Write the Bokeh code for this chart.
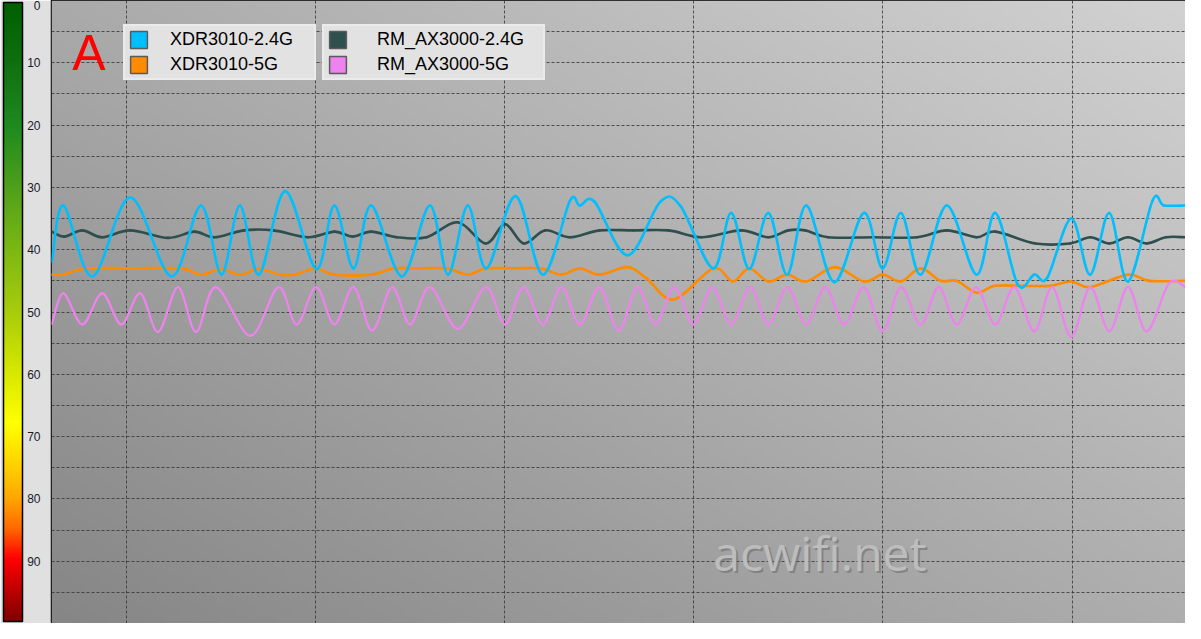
import numpy as np
from bokeh.plotting import figure
from bokeh.models import (Range1d, FixedTicker, ColorBar, LinearColorMapper,
                          Legend, LegendItem, Label, ColumnDataSource)
from bokeh.embed import file_html
from bokeh.resources import INLINE

# ---------------- data (time in s, signal value) ----------------
xdr24_t = [6.05, 6.66, 8.19, 10.19, 12.37, 13.93, 15.02, 15.99, 17.0, 18.38, 20.03, 20.99, 22.0, 22.94,
           24.56, 26.04, 27.0, 28.04, 29.03, 30.57, 32.01, 33.44, 33.97, 34.75, 36.49, 38.23, 39.3,
           41.02, 41.97, 42.93, 43.94, 44.94, 45.95, 47.42, 48.99, 49.98, 50.95, 51.99, 53.38, 54.95, 55.94,
           57.13, 58.0, 58.69, 59.96, 60.96, 61.97, 62.96, 64.26, 64.86, 66.0]
xdr24_v = [41.9, 32.9, 44.3, 31.6, 44.3, 32.9, 44.0, 32.9, 44.0, 30.6, 43.1, 32.9, 43.0, 32.9,
           44.3, 32.9, 44.0, 32.9, 43.0, 31.4, 44.0, 32.2, 32.9, 32.3, 40.9, 32.3, 33.0,
           43.0, 34.1, 43.1, 34.1, 44.0, 32.9, 45.2, 34.1, 43.0, 34.1, 44.0, 32.9, 44.0, 34.1,
           45.6, 44.0, 44.5, 35.0, 44.0, 34.1, 45.1, 32.1, 32.9, 32.9]

xdr5_t = [6.05, 6.66, 7.84, 10.3, 12.89, 13.93, 14.98, 15.99, 17.0, 18.11, 18.88, 20.03, 20.99, 22.94,
          24.11, 25.5, 26.93, 28.04, 29.0, 30.5, 31.89, 33.0, 33.97, 35.01, 36.49, 37.5, 38.93, 41.02,
          42.06, 42.93, 43.94, 44.94, 45.95, 47.46, 48.99, 49.98, 50.95, 51.99, 53.05, 53.89, 54.95,
          55.91, 57.4, 58.85, 59.96, 60.96, 62.96, 64.07, 66.0]
xdr5_v = [44.0, 44.0, 43.0, 43.0, 43.0, 44.0, 43.1, 44.0, 43.1, 44.0, 44.0, 43.0, 44.0, 44.0,
          43.0, 43.0, 43.0, 44.0, 43.0, 43.0, 43.0, 44.0, 43.0, 44.0, 42.8, 44.6, 48.0, 43.0,
          45.1, 43.0, 45.1, 44.0, 45.1, 42.8, 45.1, 44.0, 45.1, 43.0, 45.0, 45.0, 46.9,
          45.8, 45.8, 45.8, 45.1, 46.0, 44.0, 45.0, 45.0]

rm24_t = [6.05, 6.71, 7.66, 8.71, 10.19, 12.19, 13.59, 14.63, 16.2, 17.77, 19.6, 20.99, 21.95, 22.94,
          24.3, 25.87, 27.52, 29.0, 30.01, 31.0, 32.14, 33.44, 35.01, 36.8, 38.67, 40.41, 42.5, 43.94,
          44.99, 45.89, 47.1, 49.5, 51.8, 53.38, 54.95, 55.94, 58.07, 59.9, 60.96, 61.97, 62.96, 63.95,
          64.96, 66.0]
rm24_v = [37.1, 37.9, 36.9, 38.0, 36.9, 38.1, 37.1, 38.0, 36.9, 36.9, 38.0, 37.1, 37.9, 37.1,
          38.0, 38.0, 35.6, 39.0, 35.9, 39.0, 36.9, 38.0, 36.9, 36.9, 36.9, 38.0, 36.9, 38.0,
          36.9, 36.9, 38.0, 38.0, 38.0, 36.9, 38.0, 37.1, 39.0, 39.0, 38.0, 39.0, 38.0, 39.0,
          38.0, 38.0]

rm5_t = [6.05, 6.66, 7.66, 8.71, 9.72, 10.72, 11.67, 12.72, 13.67, 14.72, 16.55, 18.03, 18.99, 20.03,
         20.99, 22.0, 22.99, 24.04, 24.99, 26.04, 27.52, 29.0, 30.01, 31.0, 32.01, 33.0, 33.97, 35.01,
         36.02, 37.01, 37.97, 38.98, 39.97, 40.98, 41.97, 42.98, 43.94, 44.94, 45.95, 46.94, 47.95,
         48.99, 49.98, 50.95, 51.99, 52.95, 53.9, 54.92, 55.94, 56.95, 58.0, 58.95, 59.96, 60.96,
         61.97, 62.96, 63.95, 65.13, 66.0]
rm5_v = [51.9, 47.0, 52.0, 47.0, 52.0, 47.0, 53.2, 46.0, 53.2, 46.0, 53.8, 46.0, 52.0, 46.0,
         52.0, 46.0, 53.0, 46.0, 52.0, 46.0, 52.7, 46.0, 52.0, 46.0, 52.0, 46.0, 52.0, 46.0,
         53.0, 46.0, 52.0, 46.0, 52.0, 46.0, 52.0, 46.0, 52.0, 46.0, 52.0, 46.0, 52.0,
         46.0, 53.1, 46.0, 52.0, 46.0, 52.0, 46.0, 52.0, 46.0, 53.1, 46.0, 54.0, 46.0,
         53.1, 46.0, 53.1, 45.4, 46.0]

series_names = ["XDR3010-2.4G", "XDR3010-5G", "RM_AX3000-2.4G", "RM_AX3000-5G"]
series_colors = ["#00bfff", "#ff8c00", "#2f4f4f", "#ee82ee"]
y_ticks = [0, 10, 20, 30, 40, 50, 60, 70, 80, 90]
y_last = 100
x_grid = [10, 20, 30, 40, 50, 60]

# ---------------- figure ----------------
W, H = 1185, 623
p = figure(width=W, height=H, output_backend="svg", toolbar_location=None,
           x_range=Range1d(6.03, 66.0), y_range=Range1d(100, 0),
           min_border_left=51, min_border_right=0, min_border_top=0, min_border_bottom=0)
p.border_fill_color = "#e0e0e0"
p.background_fill_color = "#a8a8a8"
p.outline_line_color = "black"
p.outline_line_width = 1.5
p.xaxis.visible = False

# background shading (style only)
nx, ny = 300, 160
fx = np.linspace(0, 1, nx)[None, :]
fy = np.linspace(0, 1, ny)[:, None]
g = np.clip(170 + 40 * fx - 36 * fy, 0, 255).astype(np.uint8)
img = np.empty((ny, nx), dtype=np.uint32)
view = img.view(dtype=np.uint8).reshape((ny, nx, 4))
view[..., 0] = g
view[..., 1] = g
view[..., 2] = g
view[..., 3] = 255
p.image_rgba(image=[img], x=6.03, y=0, dw=59.97, dh=100, level="image")

# grid
p.xgrid.ticker = FixedTicker(ticks=x_grid)
p.ygrid.ticker = FixedTicker(ticks=list(range(5, 100, 5)))
for gr in (p.xgrid, p.ygrid):
    gr.grid_line_color = "#3a3a3a"
    gr.grid_line_dash = "3 2"
    gr.grid_line_width = 1
    gr.grid_line_alpha = 0.85

# y axis
ya = p.yaxis[0]
ya.ticker = FixedTicker(ticks=y_ticks)
ya.major_tick_line_color = None
ya.minor_tick_line_color = None
ya.axis_line_color = None
ya.major_tick_out = 0
ya.major_tick_in = 0
ya.major_label_standoff = 11
ya.major_label_text_font = "Liberation Sans"
ya.major_label_text_font_size = "12px"
ya.major_label_text_color = "#1a1a2a"

# color strip
stops = [(0, (0x00, 0x60, 0x00)), (10, (0x10, 0x70, 0x10)), (20, (0x1e, 0x8a, 0x1e)),
         (30, (0x50, 0xa0, 0x1a)), (40, (0x7c, 0xb8, 0x14)), (50, (0xa8, 0xcc, 0x0a)),
         (60, (0xd8, 0xe8, 0x00)), (68, (0xff, 0xff, 0x00)), (75, (0xff, 0xd0, 0x00)),
         (80, (0xff, 0xa8, 0x00)), (85, (0xff, 0x6a, 0x00)), (90, (0xff, 0x00, 0x00)),
         (95, (0xc0, 0x00, 0x00)), (100, (0x80, 0x00, 0x00))]
pal = []
for k in range(256):
    vv = 100 - k * 100 / 255.0
    for (a, ca), (b, cb) in zip(stops[:-1], stops[1:]):
        if a <= vv <= b:
            f = (vv - a) / (b - a)
            c = [int(round(ca[j] + (cb[j] - ca[j]) * f)) for j in range(3)]
            pal.append("#%02x%02x%02x" % tuple(c))
            break
cb_ = ColorBar(color_mapper=LinearColorMapper(palette=pal, low=0, high=100),
               width=19, padding=2, margin=0, ticker=FixedTicker(ticks=[]),
               major_tick_line_color=None, minor_tick_line_color=None,
               major_tick_in=0, major_tick_out=0, label_standoff=0,
               major_label_text_font_size="0px",
               bar_line_color="black", bar_line_width=1.5,
               background_fill_color="#e0e0e0", border_line_color=None)
p.add_layout(cb_, "left")

# last tick label (kept separate so the axis strip stays narrow; lifted to stay on the canvas)
p.add_layout(Label(x=6.03, y=y_last, x_offset=-24, y_offset=8, text=str(y_last), text_align="left",
                   text_baseline="middle", text_font="Liberation Sans", text_font_size="12px",
                   text_color="#1a1a2a"))


# ---------------- curves (cardinal spline segments) ----------------
def bez_src(t, v):
    n = len(t)
    d = dict(x0=[], y0=[], x1=[], y1=[], cx0=[], cy0=[], cx1=[], cy1=[])
    for i in range(n - 1):
        a = max(i - 1, 0)
        b = min(i + 2, n - 1)
        d["x0"].append(t[i]); d["y0"].append(v[i])
        d["x1"].append(t[i + 1]); d["y1"].append(v[i + 1])
        d["cx0"].append(t[i] + (t[i + 1] - t[a]) / 6.0)
        d["cy0"].append(v[i] + (v[i + 1] - v[a]) / 6.0)
        d["cx1"].append(t[i + 1] - (t[b] - t[i]) / 6.0)
        d["cy1"].append(v[i + 1] - (v[b] - v[i]) / 6.0)
    return ColumnDataSource(d)


for (t, v, col, w) in [(rm24_t, rm24_v, series_colors[2], 2.6),
                       (xdr5_t, xdr5_v, series_colors[1], 2.6),
                       (rm5_t, rm5_v, series_colors[3], 2.2),
                       (xdr24_t, xdr24_v, series_colors[0], 2.6)]:
    p.bezier(x0="x0", y0="y0", x1="x1", y1="y1", cx0="cx0", cy0="cy0", cx1="cx1", cy1="cy1",
             source=bez_src(t, v), line_color=col, line_width=w, line_cap="round")

# ---------------- legends ----------------
sw = []
for col in series_colors:
    sw.append(p.quad(left=[np.nan], right=[np.nan], top=[np.nan], bottom=[np.nan], fill_color=col,
                     line_color="#5a5a5a", line_width=1.5))


def make_legend(idx, loc, standoff, lw):
    lg = Legend(items=[LegendItem(label=series_names[i], renderers=[sw[i]]) for i in idx],
                location=loc, orientation="vertical", glyph_width=21, glyph_height=21,
                label_standoff=standoff, label_width=lw, padding=3, spacing=4, margin=0,
                label_text_font="Liberation Sans", label_text_font_size="18px",
                label_text_color="black",
                background_fill_color="#e2e2e2", background_fill_alpha=1.0,
                border_line_color="#f4f4f4", border_line_width=2)
    p.add_layout(lg)


make_legend([0, 1], (72, 543), 21, 141)
make_legend([2, 3], (271, 543), 29, 163)

# ---------------- texts ----------------
p.add_layout(Label(x=7.13, y=8.35, text="A", text_color="#ff0000", text_font="Liberation Sans",
                   text_font_size="50px", text_baseline="alphabetic"))
p.add_layout(Label(x=41.03, y=88.6, x_offset=2, y_offset=-2, text="acwifi.net", text_color="#6e6e6e",
                   text_alpha=0.6, text_font="Open Sans", text_font_size="48px",
                   text_baseline="alphabetic"))
p.add_layout(Label(x=41.03, y=88.6, text="acwifi.net", text_color="#bdbdbd",
                   text_font="Open Sans", text_font_size="48px", text_baseline="alphabetic"))

open("out.html", "w").write(file_html(p, INLINE))
